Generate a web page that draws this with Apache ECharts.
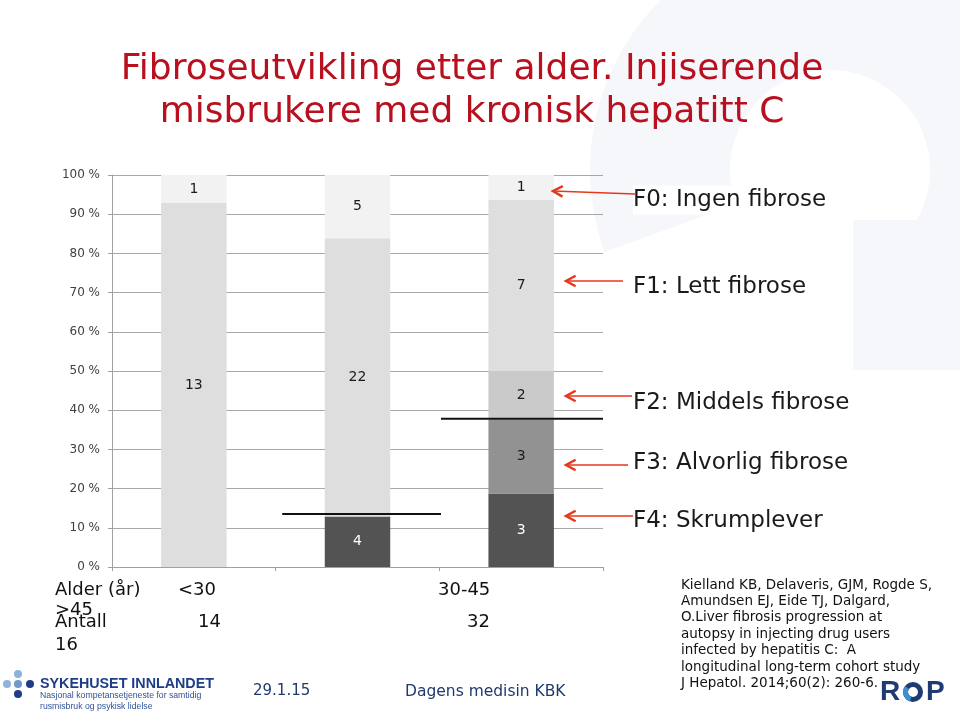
<!DOCTYPE html>
<html><head><meta charset="utf-8">
<script src="https://cdn.jsdelivr.net/npm/echarts@6/dist/echarts.min.js"></script>
<style>html,body{margin:0;padding:0;background:#fff}#c{width:960px;height:715px}</style>
</head><body><div id="c"></div>
<script>
// ---- data ----
const categories = ['<30', '30-45', '>45'];
const antall = [14, 32, 16];
const stageNames = ['F0: Ingen fibrose', 'F1: Lett fibrose', 'F2: Middels fibrose', 'F3: Alvorlig fibrose', 'F4: Skrumplever'];
const f0 = [1, 5, 1];
const f1 = [13, 22, 7];
const f2 = [0, 0, 2];
const f3 = [0, 0, 3];
const f4 = [0, 4, 3];
const refLine1 = [[1.04, 13.5], [2.01, 13.5]];
const refLine2 = [[2.01, 37.8], [3.0, 37.8]];
const citation = [
  'Kielland KB, Delaveris, GJM, Rogde S,',
  'Amundsen EJ, Eide TJ, Dalgard,',
  'O.Liver fibrosis progression at',
  'autopsy in injecting drug users',
  'infected by hepatitis C:  A',
  'longitudinal long-term cohort study',
  'J Hepatol. 2014;60(2): 260-6.'
];

const FONT = 'DejaVu Sans';
const stages = [f4, f3, f2, f1, f0];
const stageColors = ['#535353', '#929292', '#cacaca', '#dedede', '#f2f2f2'];
const stageLabelColors = ['#ffffff', '#1a1a1a', '#1a1a1a', '#1a1a1a', '#1a1a1a'];
const seriesNames = ['F4', 'F3', 'F2', 'F1', 'F0'];
const totals = categories.map((c, i) => stages.reduce((s, a) => s + a[i], 0));

const chart = echarts.init(document.getElementById('c'), null, {renderer: 'canvas'});

const barSeries = stages.map((arr, k) => ({
  name: seriesNames[k],
  type: 'bar',
  stack: 'all',
  barWidth: '40%',
  xAxisIndex: 0,
  data: arr.map((v, i) => ({value: v / totals[i] * 100, count: v})),
  itemStyle: {color: stageColors[k]},
  label: {
    show: true, position: 'inside', fontFamily: FONT, fontSize: 14,
    color: stageLabelColors[k],
    formatter: p => (arr[p.dataIndex] > 0 ? String(arr[p.dataIndex]) : '')
  },
  silent: true
}));

const refSeries = [refLine1, refLine2].map(d => ({
  type: 'line', xAxisIndex: 1, data: d, symbol: 'none', silent: true, z: 5,
  lineStyle: {color: '#111', width: 2}
}));

// ---- graphic (annotations / slide text) ----
const g = [];
// faint watermark
const WM = '#f6f7fa';
g.push({type: 'sector', z: -10, silent: true,
  shape: {cx: 830, cy: 170, r0: 100, r: 240, startAngle: Math.PI * 160 / 180, endAngle: Math.PI * 390 / 180, clockwise: true},
  style: {fill: WM}});
g.push({type: 'rect', z: -10, silent: true, shape: {x: 853, y: 220, width: 107, height: 150}, style: {fill: WM}});

// title
const titleLines = ['Fibroseutvikling etter alder. Injiserende', 'misbrukere med kronisk hepatitt C'];
titleLines.forEach((t, i) => g.push({type: 'text', silent: true, style: {
  text: t, x: 472, y: 70 + i * 43, align: 'center', verticalAlign: 'middle',
  font: '36px "' + FONT + '"', fill: '#b8101e'}}));

// stage labels + arrows
const legendY = [200, 287, 403, 463, 521];
const arrows = [
  {tail: [635, 194], tip: [553, 191]},
  {tail: [623, 281], tip: [566, 281]},
  {tail: [632, 396], tip: [566, 396]},
  {tail: [628, 465], tip: [566, 465]},
  {tail: [633, 516], tip: [566, 516]}
];
stageNames.forEach((t, i) => {
  g.push({type: 'text', silent: true, z: 10, style: {
    text: t, x: 633, y: legendY[i], verticalAlign: 'middle',
    font: '23px "' + FONT + '"', fill: '#1a1a1a', backgroundColor: '#fff', padding: [3, 8, 3, 0]}});
});
arrows.forEach(a => {
  const [tx, ty] = a.tip, [sx, sy] = a.tail;
  const ang = Math.atan2(sy - ty, sx - tx);
  const L = 11, W = 0.5;
  const p1 = [tx + L * Math.cos(ang + W), ty + L * Math.sin(ang + W)];
  const p2 = [tx + L * Math.cos(ang - W), ty + L * Math.sin(ang - W)];
  g.push({type: 'line', silent: true, z: 11, shape: {x1: sx, y1: sy, x2: tx, y2: ty}, style: {stroke: '#e5391e', lineWidth: 1.5}});
  g.push({type: 'polyline', silent: true, z: 11, shape: {points: [p1, [tx, ty], p2]}, style: {stroke: '#e5391e', lineWidth: 2.5, fill: null}});
});

// cover bottom of "0 %"
g.push({type: 'rect', silent: true, z: 20, shape: {x: 40, y: 571, width: 68, height: 8}, style: {fill: '#fff'}});

// Alder / Antall rows
const rowFont = '18px "' + FONT + '"';
const rowText = (t, x, y) => g.push({type: 'text', silent: true, z: 21, style: {text: t, x: x, y: y, verticalAlign: 'middle', font: rowFont, fill: '#111'}});
rowText('Alder (år)', 55, 590);
rowText(categories[0], 178, 590);
rowText(categories[1], 438, 590);
rowText(categories[2], 55, 610);
rowText('Antall', 55, 622);
rowText(String(antall[0]), 198, 622);
rowText(String(antall[1]), 467, 622);
rowText(String(antall[2]), 55, 645);

// citation
citation.forEach((t, i) => g.push({type: 'text', silent: true, style: {
  text: t, x: 681, y: 585 + i * 16.4, verticalAlign: 'middle', font: '13.5px "' + FONT + '"', fill: '#111'}}));

// footer
g.push({type: 'text', silent: true, style: {text: '29.1.15', x: 253, y: 691, verticalAlign: 'middle', font: '15px "' + FONT + '"', fill: '#1f3a6e'}});
g.push({type: 'text', silent: true, style: {text: 'Dagens medisin KBK', x: 405, y: 692, verticalAlign: 'middle', font: '15.5px "' + FONT + '"', fill: '#1f3a6e'}});
// Sykehuset Innlandet logo
[[18, 674, '#8fb2dc'], [7, 684, '#8fb2dc'], [18, 684, '#6f98cc'], [30, 684, '#1f3c88'], [18, 694, '#1f3c88']].forEach(d =>
  g.push({type: 'circle', silent: true, shape: {cx: d[0], cy: d[1], r: 4}, style: {fill: d[2]}}));
g.push({type: 'text', silent: true, style: {text: 'SYKEHUSET INNLANDET', x: 40, y: 684, verticalAlign: 'middle', font: 'bold 14.3px "Liberation Sans"', fill: '#1f3c88'}});
g.push({type: 'text', silent: true, style: {text: 'Nasjonal kompetansetjeneste for samtidig', x: 40, y: 696, verticalAlign: 'middle', font: '8.7px "Liberation Sans"', fill: '#2f5298'}});
g.push({type: 'text', silent: true, style: {text: 'rusmisbruk og psykisk lidelse', x: 40, y: 707, verticalAlign: 'middle', font: '8.7px "Liberation Sans"', fill: '#2f5298'}});
// ROP logo
g.push({type: 'text', silent: true, style: {text: 'R', x: 880, y: 692, verticalAlign: 'middle', font: 'bold 28px "Liberation Sans"', fill: '#1f3b73'}});
g.push({type: 'circle', silent: true, shape: {cx: 913, cy: 692, r: 7.5}, style: {fill: null, stroke: '#1f3b73', lineWidth: 5}});
g.push({type: 'arc', silent: true, shape: {cx: 913, cy: 692, r: 7.5, startAngle: Math.PI * 0.6, endAngle: Math.PI * 1.2}, style: {stroke: '#3f8fd0', lineWidth: 5}});
g.push({type: 'text', silent: true, style: {text: 'P', x: 926, y: 692, verticalAlign: 'middle', font: 'bold 28px "Liberation Sans"', fill: '#1f3b73'}});

chart.setOption({
  backgroundColor: '#fff',
  animation: false,
  textStyle: {fontFamily: FONT},
  grid: {left: 112, right: 357, top: 175, bottom: 148, containLabel: false},
  xAxis: [
    {type: 'category', data: categories,
      axisLine: {show: true, lineStyle: {color: '#a0a0a0', width: 1}},
      axisTick: {show: true, length: 4, lineStyle: {color: '#a0a0a0'}},
      axisLabel: {show: false}, splitLine: {show: false}},
    {type: 'value', min: 0, max: 3, show: false}
  ],
  yAxis: {type: 'value', min: 0, max: 100, interval: 10,
    axisLine: {show: true, lineStyle: {color: '#a0a0a0', width: 1}},
    axisTick: {show: true, length: 4, lineStyle: {color: '#a0a0a0'}},
    axisLabel: {formatter: '{value} %', fontFamily: FONT, fontSize: 12, color: '#404040', margin: 12},
    splitLine: {show: true, lineStyle: {color: '#a8a8a8', width: 1}}},
  series: barSeries.concat(refSeries),
  graphic: {elements: g}
});
</script>
</body></html>
